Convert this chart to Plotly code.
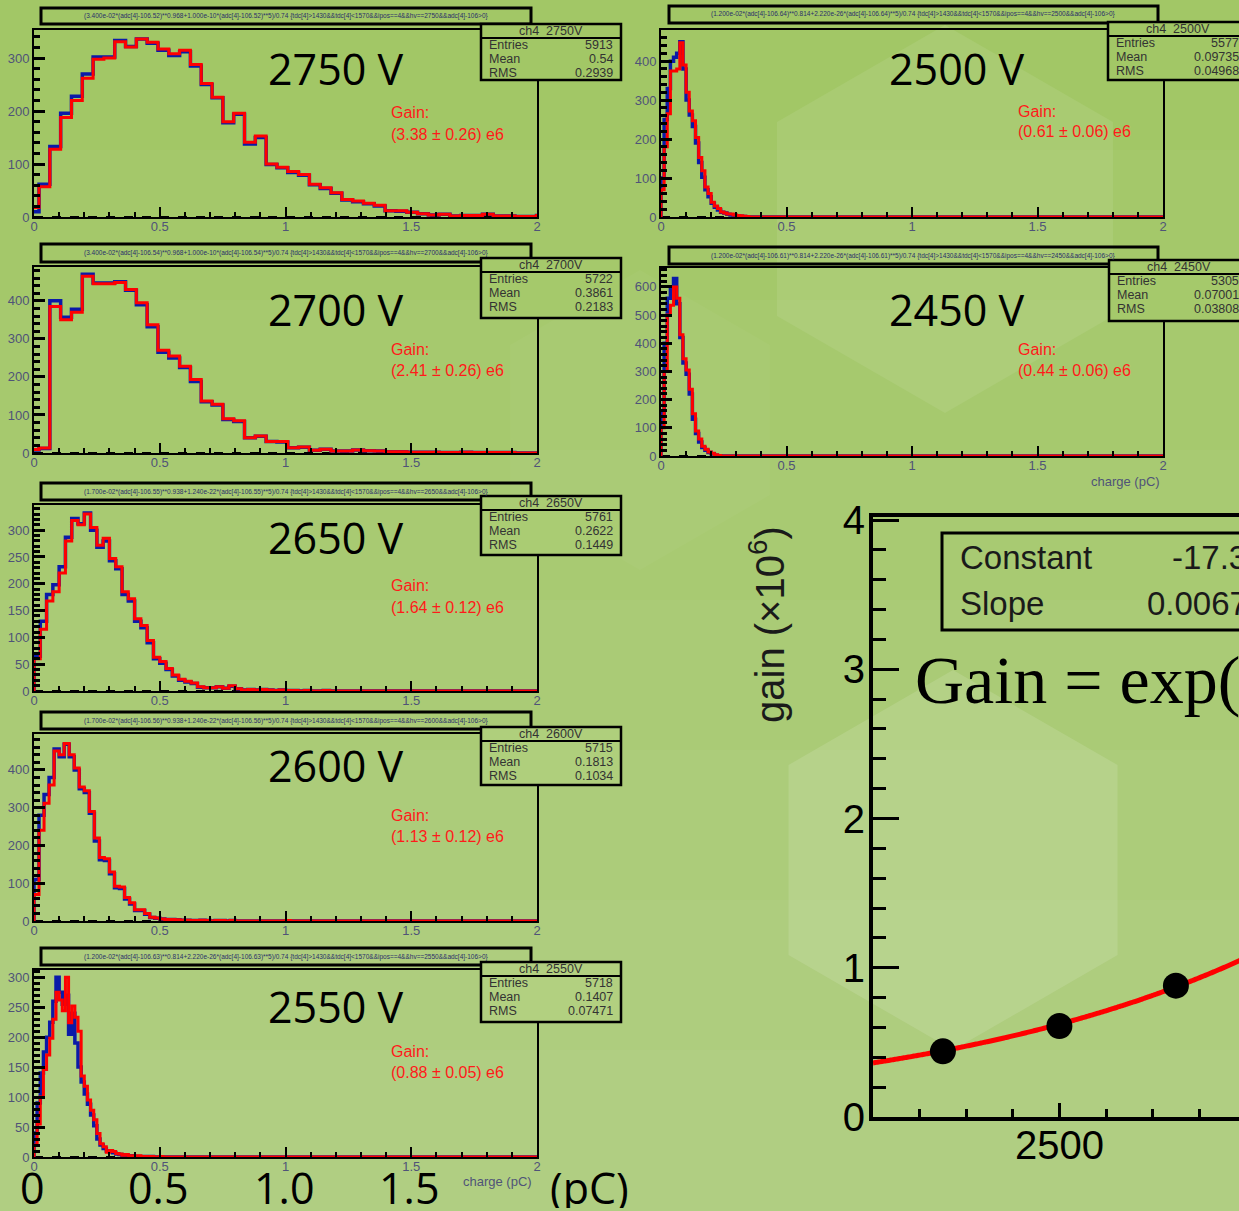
import numpy as np
import plotly.graph_objects as go

W, H = 1239, 1211

# ---------------- data ----------------
hv_labels = ["2750", "2700", "2650", "2600", "2550", "2500", "2450"]
entries = [5913, 5722, 5761, 5715, 5718, 5577, 5305]
means = ["0.54", "0.3861", "0.2622", "0.1813", "0.1407", "0.09735", "0.07001"]
rmss = ["0.2939", "0.2183", "0.1449", "0.1034", "0.07471", "0.04968", "0.03808"]
gain_vals = [3.38, 2.41, 1.64, 1.13, 0.88, 0.61, 0.44]
gain_errs = [0.26, 0.26, 0.12, 0.12, 0.05, 0.06, 0.06]

bin_start = [-0.023, -0.023, 0.0, 0.0, 0.0, 0.0, 0.0]
bin_width = [0.043, 0.043, 0.025, 0.02, 0.0125, 0.0125, 0.0125]

red_2750 = [18, 57, 128, 188, 220, 262, 298, 300, 331, 321, 336, 330, 317, 308, 315, 288, 252, 226,
            180, 196, 141, 153, 100, 94, 86, 80, 62, 55, 46, 33, 30, 26, 22, 12, 12, 9, 6, 4, 5, 2,
            3, 3, 5, 2, 2, 1, 1, 3]
blue_2750 = [10, 62, 133, 196, 228, 270, 302, 302, 333, 322, 336, 328, 315, 305, 312, 285, 250, 225,
             178, 194, 138, 150, 99, 93, 84, 79, 61, 54, 45, 32, 29, 25, 21, 12, 11, 9, 6, 4, 5, 2,
             3, 3, 5, 2, 2, 1, 1, 3]
red_2700 = [9, 13, 385, 350, 370, 465, 445, 445, 448, 430, 395, 337, 270, 255, 228, 193, 137, 128,
            90, 85, 40, 45, 30, 30, 14, 16, 7, 10, 5, 5, 8, 6, 5, 3, 3, 2, 2, 2, 1, 1, 2, 1, 1, 1,
            1, 0, 0, 0]
blue_2700 = [8, 12, 400, 357, 378, 470, 447, 447, 450, 428, 390, 332, 265, 250, 225, 188, 135, 126,
             88, 83, 40, 44, 30, 29, 14, 15, 7, 10, 5, 5, 8, 6, 5, 3, 3, 2, 2, 2, 1, 1, 2, 1, 1, 1,
             1, 0, 0, 0]
red_2650 = [60, 115, 168, 185, 220, 280, 318, 310, 330, 305, 272, 285, 247, 232, 185, 172, 135, 122,
            94, 63, 55, 42, 30, 22, 18, 15, 8, 6, 6, 8, 5, 10, 4, 2, 3, 2, 3, 2, 1, 2, 1, 1, 0, 1,
            0, 0, 1, 0]
blue_2650 = [65, 130, 180, 198, 232, 287, 322, 312, 332, 300, 268, 280, 243, 228, 180, 168, 130, 118,
             90, 60, 52, 40, 28, 20, 17, 14, 7, 6, 6, 8, 5, 9, 4, 2, 3, 2, 3, 2, 1, 2, 1, 1, 0, 1,
             0, 0, 1, 0]
red_2600 = [70, 240, 312, 360, 450, 440, 470, 440, 405, 355, 345, 290, 220, 168, 165, 130, 92, 90,
            62, 48, 30, 30, 20, 10, 8, 5, 4, 4, 3, 2, 2, 1, 1, 2, 1, 0, 1, 1, 0, 1, 0, 0, 0, 0, 0,
            0, 0, 0, 0, 0, 1, 0]
blue_2600 = [110, 280, 335, 380, 455, 435, 468, 435, 400, 350, 340, 285, 212, 162, 160, 125, 88, 86,
             58, 45, 28, 28, 18, 9, 7, 5, 4, 4, 3, 2, 2, 1, 1, 2, 1, 0, 1, 1, 0, 1]
red_2550 = [20, 55, 100, 146, 170, 198, 230, 275, 262, 244, 300, 224, 252, 233, 210, 135, 118, 95,
            78, 62, 39, 22, 17, 8, 11, 9, 6, 5, 3, 4, 2, 2, 1, 2, 1, 1, 0, 1, 0, 0, 1]
blue_2550 = [40, 90, 140, 175, 200, 225, 260, 300, 275, 255, 270, 205, 240, 190, 150, 125, 105, 88,
             70, 52, 30, 20, 14, 10, 9, 7, 5, 4, 3, 3, 2, 2, 1, 1, 1, 1, 0, 1]
red_2500 = [70, 180, 265, 375, 375, 380, 447, 390, 320, 272, 247, 204, 153, 119, 77, 60, 38, 28, 22,
            13, 10, 8, 8, 5, 4, 3, 2, 1]
blue_2500 = [100, 250, 330, 400, 410, 420, 450, 380, 300, 262, 232, 190, 140, 102, 70, 52, 35, 25,
             18, 12, 10, 7, 5, 4, 3, 2, 1]
red_2450 = [100, 300, 500, 535, 600, 560, 430, 345, 305, 237, 150, 89, 60, 35, 24, 14, 10, 4, 2]
blue_2450 = [150, 400, 560, 590, 630, 540, 420, 330, 290, 220, 130, 80, 50, 30, 20, 12, 8, 3, 1]

red_hists = [red_2750, red_2700, red_2650, red_2600, red_2550, red_2500, red_2450]
blue_hists = [blue_2750, blue_2700, blue_2650, blue_2600, blue_2550, blue_2500, blue_2450]

formulas = [
    "(3.400e-02*(adc[4]-106.52)**0.968+1.000e-10*(adc[4]-106.52)**5)/0.74 {tdc[4]>1430&&tdc[4]<1570&&ipos==4&&hv==2750&&adc[4]-106>0}",
    "(3.400e-02*(adc[4]-106.54)**0.968+1.000e-10*(adc[4]-106.54)**5)/0.74 {tdc[4]>1430&&tdc[4]<1570&&ipos==4&&hv==2700&&adc[4]-106>0}",
    "(1.700e-02*(adc[4]-106.55)**0.938+1.240e-22*(adc[4]-106.55)**5)/0.74 {tdc[4]>1430&&tdc[4]<1570&&ipos==4&&hv==2650&&adc[4]-106>0}",
    "(1.700e-02*(adc[4]-106.56)**0.938+1.240e-22*(adc[4]-106.56)**5)/0.74 {tdc[4]>1430&&tdc[4]<1570&&ipos==4&&hv==2600&&adc[4]-106>0}",
    "(1.200e-02*(adc[4]-106.63)**0.814+2.220e-26*(adc[4]-106.63)**5)/0.74 {tdc[4]>1430&&tdc[4]<1570&&ipos==4&&hv==2550&&adc[4]-106>0}",
    "(1.200e-02*(adc[4]-106.64)**0.814+2.220e-26*(adc[4]-106.64)**5)/0.74 {tdc[4]>1430&&tdc[4]<1570&&ipos==4&&hv==2500&&adc[4]-106>0}",
    "(1.200e-02*(adc[4]-106.61)**0.814+2.220e-26*(adc[4]-106.61)**5)/0.74 {tdc[4]>1430&&tdc[4]<1570&&ipos==4&&hv==2450&&adc[4]-106>0}",
]

hv_points = [2450, 2500, 2550, 2600, 2650, 2700, 2750]
gain_points = [0.44, 0.61, 0.88, 1.13, 1.64, 2.41, 3.38]
fit_constant = -17.35
fit_slope = 0.00675

big_x_labels = ["0", "0.5", "1.0", "1.5"]
big_x_values = [0.0, 0.5, 1.0, 1.5]

# ---------------- layout geometry (pixels) ----------------
BASE = (162, 199, 102)
BAND_A = 0.03


def px(x):
    return x / W


def py(y):
    return 1 - y / H


def bg_at(y):
    k = sum(1 for j in range(7) if y >= 150 + 150 * j)
    a = 1 - (1 - BAND_A) ** k
    r, g, b = (round(c * (1 - a) + 255 * a) for c in BASE)
    return f"rgb({r},{g},{b})"


def ann(x, y, text, size, color, family="Liberation Sans", xanchor="center", **kw):
    d = dict(xref="paper", yref="paper", x=px(x), y=py(y), text=text, showarrow=False,
             xanchor=xanchor, yanchor="middle", font=dict(family=family, size=size, color=color))
    d.update(kw)
    return d


panels = [
    dict(l=34, r=537, t=30, b=217, ymax=353, dy=100, tb=(41, 531, 8, 24), sb=(481, 621, 24, 80), vy=68, gy=113, gx=389, vx=336),
    dict(l=34, r=537, t=267, b=453, ymax=489, dy=100, tb=(41, 531, 244, 262), sb=(481, 621, 258, 318), vy=310, gy=349, gx=389, vx=336),
    dict(l=34, r=537, t=505, b=691, ymax=347, dy=50, tb=(41, 531, 483, 500), sb=(481, 621, 496, 555), vy=538, gy=586, gx=389, vx=336),
    dict(l=34, r=537, t=734, b=921, ymax=495, dy=100, tb=(41, 531, 712, 729), sb=(481, 621, 727, 785), vy=765, gy=815, gx=389, vx=336),
    dict(l=34, r=537, t=970, b=1157, ymax=312, dy=50, tb=(41, 531, 948, 965), sb=(481, 621, 962, 1022), vy=1006, gy=1051, gx=389, vx=336),
    dict(l=661, r=1163, t=30, b=217, ymax=480, dy=100, tb=(669, 1158, 6, 23), sb=(1108, 1260, 22, 80), vy=68, gy=111, gx=1016, vx=957),
    dict(l=661, r=1163, t=268, b=456, ymax=667, dy=100, tb=(669, 1158, 247, 264), sb=(1109, 1260, 260, 321), vy=310, gy=349, gx=1016, vx=957),
]

fig = go.Figure()
shapes = []
annotations = []

# background gradient bands and light hexagons
for k in range(7):
    shapes.append(dict(type="rect", xref="paper", yref="paper", x0=0, x1=1,
                       y0=0, y1=py(150 + k * 150), line=dict(width=0),
                       fillcolor=f"rgba(255,255,255,{BAND_A})", layer="below"))


def hexpath(cx, cy, r):
    pts = [(cx, cy - r), (cx + 0.866 * r, cy - r / 2), (cx + 0.866 * r, cy + r / 2),
           (cx, cy + r), (cx - 0.866 * r, cy + r / 2), (cx - 0.866 * r, cy - r / 2)]
    s = "M " + " L ".join(f"{px(a):.4f},{py(b):.4f}" for a, b in pts) + " Z"
    return s


for (cx, cy, r, a) in [(945, 219, 194, 0.08), (953, 860, 190, 0.12), (640, 420, 150, 0.03)]:
    shapes.append(dict(type="path", xref="paper", yref="paper", path=hexpath(cx, cy, r),
                       line=dict(width=0), fillcolor=f"rgba(255,255,255,{a})", layer="below"))

tick_col = "#4f5378"
stat_col = "#333333"
for i, p in enumerate(panels):
    n = i + 1
    xa = "x" if n == 1 else f"x{n}"
    ya = "y" if n == 1 else f"y{n}"
    x0 = bin_start[i]
    w = bin_width[i]
    # baseline dashed function
    fig.add_trace(go.Scatter(x=[0, 2], y=[0, 0], mode="lines", xaxis=xa, yaxis=ya,
                             line=dict(color="black", width=2, dash="dash"), hoverinfo="skip"))
    for counts, col, lw in [(blue_hists[i], "#0a1aa8", 3.5), (red_hists[i], "#ff0000", 3)]:
        edges = [x0 + w * k for k in range(len(counts) + 1)]
        xs = [edges[0]] + edges + [2.0]
        ys = [0] + list(counts) + [0, 0]
        fig.add_trace(go.Scatter(x=xs, y=ys, mode="lines", line_shape="hv", xaxis=xa, yaxis=ya,
                                 line=dict(color=col, width=lw), hoverinfo="skip"))
    xdom = [px(p["l"]), px(p["r"])]
    ydom = [py(p["b"]), py(p["t"])]
    fig.update_layout(**{
        ("xaxis" if n == 1 else f"xaxis{n}"): dict(
            domain=xdom, range=[0, 2], anchor=ya, tickvals=[0, 0.5, 1, 1.5, 2],
            ticktext=["0", "0.5", "1", "1.5", "2"], ticks="inside", ticklen=10, tickwidth=2,
            tickcolor="black", minor=dict(ticks="inside", dtick=0.1, ticklen=5, tickwidth=2, tickcolor="black"),
            showline=True, linecolor="black", linewidth=2, mirror=True, showgrid=False, zeroline=False,
            automargin=False, ticklabelstandoff=-4,
            tickfont=dict(family="Liberation Sans", size=13, color=tick_col), fixedrange=True),
        ("yaxis" if n == 1 else f"yaxis{n}"): dict(
            domain=ydom, range=[0, p["ymax"]], anchor=xa, tick0=0, dtick=p["dy"], ticks="inside",
            ticklen=11, tickwidth=3, tickcolor="black",
            minor=dict(ticks="inside", dtick=p["dy"] / 5, ticklen=6, tickwidth=3, tickcolor="black"),
            showline=True, linecolor="black", linewidth=2, mirror=True, showgrid=False, zeroline=False,
            automargin=False,
            tickfont=dict(family="Liberation Sans", size=13, color=tick_col), fixedrange=True),
    })
    # title box
    tx0, tx1, ty0, ty1 = p["tb"]
    shapes.append(dict(type="rect", xref="paper", yref="paper", x0=px(tx0), x1=px(tx1), y0=py(ty1), y1=py(ty0),
                       line=dict(color="black", width=3), fillcolor="rgba(0,0,0,0)"))
    annotations.append(ann((tx0 + tx1) / 2, (ty0 + ty1) / 2, formulas[i], 6.5, "#2a2f6a"))
    # stats box (opaque, covers frame)
    sx0, sx1, sy0, sy1 = p["sb"]
    shapes.append(dict(type="rect", xref="paper", yref="paper", x0=px(sx0), x1=px(sx1), y0=py(sy1), y1=py(sy0),
                       line=dict(color="black", width=2.5), fillcolor=bg_at((sy0 + sy1) / 2)))
    shapes.append(dict(type="line", xref="paper", yref="paper", x0=px(sx0), x1=px(sx1), y0=py(sy0 + 14), y1=py(sy0 + 14),
                       line=dict(color="black", width=2)))
    annotations.append(ann(sx0 + 70, sy0 + 7, f"ch4  {hv_labels[i]}V", 12.5, stat_col))
    rx = sx0 + 134 if sx1 < 700 else 1241
    for j, (lab, val) in enumerate([("Entries", str(entries[i])), ("Mean", means[i]), ("RMS", rmss[i])]):
        yy = sy0 + 21 + 14 * j
        annotations.append(ann(sx0 + 6, yy, lab, 12.5, stat_col, xanchor="left"))
        annotations.append(ann(rx, yy, val, 12.5, stat_col, xanchor="right"))
    # voltage label
    annotations.append(ann(p["vx"], p["vy"], f"{hv_labels[i]} V", 43, "black", family="Open Sans"))
    # gain text
    annotations.append(ann(p["gx"], p["gy"], "Gain:", 16, "#ff1a1a", xanchor="left"))
    annotations.append(ann(p["gx"], p["gy"] + 21, f"({gain_vals[i]:.2f} \u00b1 {gain_errs[i]:.2f}) e6", 16,
                           "#ff1a1a", xanchor="left"))

# small axis titles
annotations.append(ann(497, 1181, "charge (pC)", 13, tick_col))
annotations.append(ann(1125, 481, "charge (pC)", 13, tick_col))

# big x labels under bottom-left panel
for lab, val in zip(big_x_labels, big_x_values):
    xpix = 34 + val * (537 - 34) / 2
    annotations.append(ann(xpix - 2, 1187, lab, 43, "black", family="Open Sans", height=42))
annotations.append(ann(589, 1187, "(pC)", 43, "black", family="Open Sans", height=42))

# ---------------- gain vs HV plot ----------------
vgrid = np.linspace(2420, 2800, 400)
fig.add_trace(go.Scatter(x=vgrid, y=np.exp(fit_constant + fit_slope * vgrid), mode="lines", xaxis="x8", yaxis="y8",
                         line=dict(color="#ff0000", width=5, shape="spline"), hoverinfo="skip"))
fig.add_trace(go.Scatter(x=hv_points, y=gain_points, mode="markers", xaxis="x8", yaxis="y8",
                         marker=dict(color="black", size=26), hoverinfo="skip"))
gx0, gy0 = 873, 1117
unit_y = 149.25
unit_x = 2.33
fig.update_layout(
    xaxis8=dict(domain=[px(gx0), 1.0], range=[2420, 2420 + (W - gx0) / unit_x], anchor="y8", tick0=2400, dtick=100,
                ticks="inside", ticklen=14, tickwidth=3, tickcolor="black",
                minor=dict(ticks="inside", dtick=20, ticklen=8, tickwidth=3, tickcolor="black"),
                showline=True, linecolor="black", linewidth=4, mirror=True, showgrid=False, zeroline=False,
                automargin=False, ticklabelstandoff=-10,
                tickfont=dict(family="Liberation Sans", size=40, color="black"), fixedrange=True),
    yaxis8=dict(domain=[py(gy0), py(517)], range=[0, (gy0 - 517) / unit_y], anchor="x8", tick0=0, dtick=1,
                ticks="inside", ticklen=26, tickwidth=3, tickcolor="black",
                minor=dict(ticks="inside", dtick=0.2, ticklen=13, tickwidth=3, tickcolor="black"),
                showline=True, linecolor="black", linewidth=4, mirror=False, showgrid=False, zeroline=False,
                automargin=False, ticklabelstandoff=-4,
                tickfont=dict(family="Liberation Sans", size=40, color="black"), fixedrange=True),
)
annotations.append(ann(767, 625, "gain (\u00d710<sup>6</sup>)", 40, "#1a1a1a", textangle=-90))
shapes.append(dict(type="rect", xref="paper", yref="paper", x0=px(942), x1=px(1262), y0=py(630), y1=py(533),
                   line=dict(color="black", width=3), fillcolor="rgba(0,0,0,0)"))
annotations.append(ann(958, 557, "Constant", 33, "#1a1a1a", xanchor="left"))
annotations.append(ann(958, 603, "Slope", 33, "#1a1a1a", xanchor="left"))
annotations.append(ann(1268, 557, f"{fit_constant:.2f}", 33, "#1a1a1a", xanchor="right"))
annotations.append(ann(1268, 603, f"{fit_slope:.5f}", 33, "#1a1a1a", xanchor="right"))
annotations.append(ann(913, 680, "Gain = exp(", 68, "black", family="Liberation Serif", xanchor="left"))

fig.update_layout(
    width=W, height=H, margin=dict(l=0, r=0, t=0, b=0, autoexpand=False),
    paper_bgcolor=f"rgb{BASE}", plot_bgcolor="rgba(0,0,0,0)", showlegend=False,
    shapes=shapes, annotations=annotations,
)

fig.write_html("out.html", config={"displayModeBar": False})
with open("out.html", "r", encoding="utf-8") as f:
    html = f.read()
html = html.replace("<head>", "<head><style>html,body{margin:0;padding:0;overflow:hidden;}</style>", 1)
with open("out.html", "w", encoding="utf-8") as f:
    f.write(html)
